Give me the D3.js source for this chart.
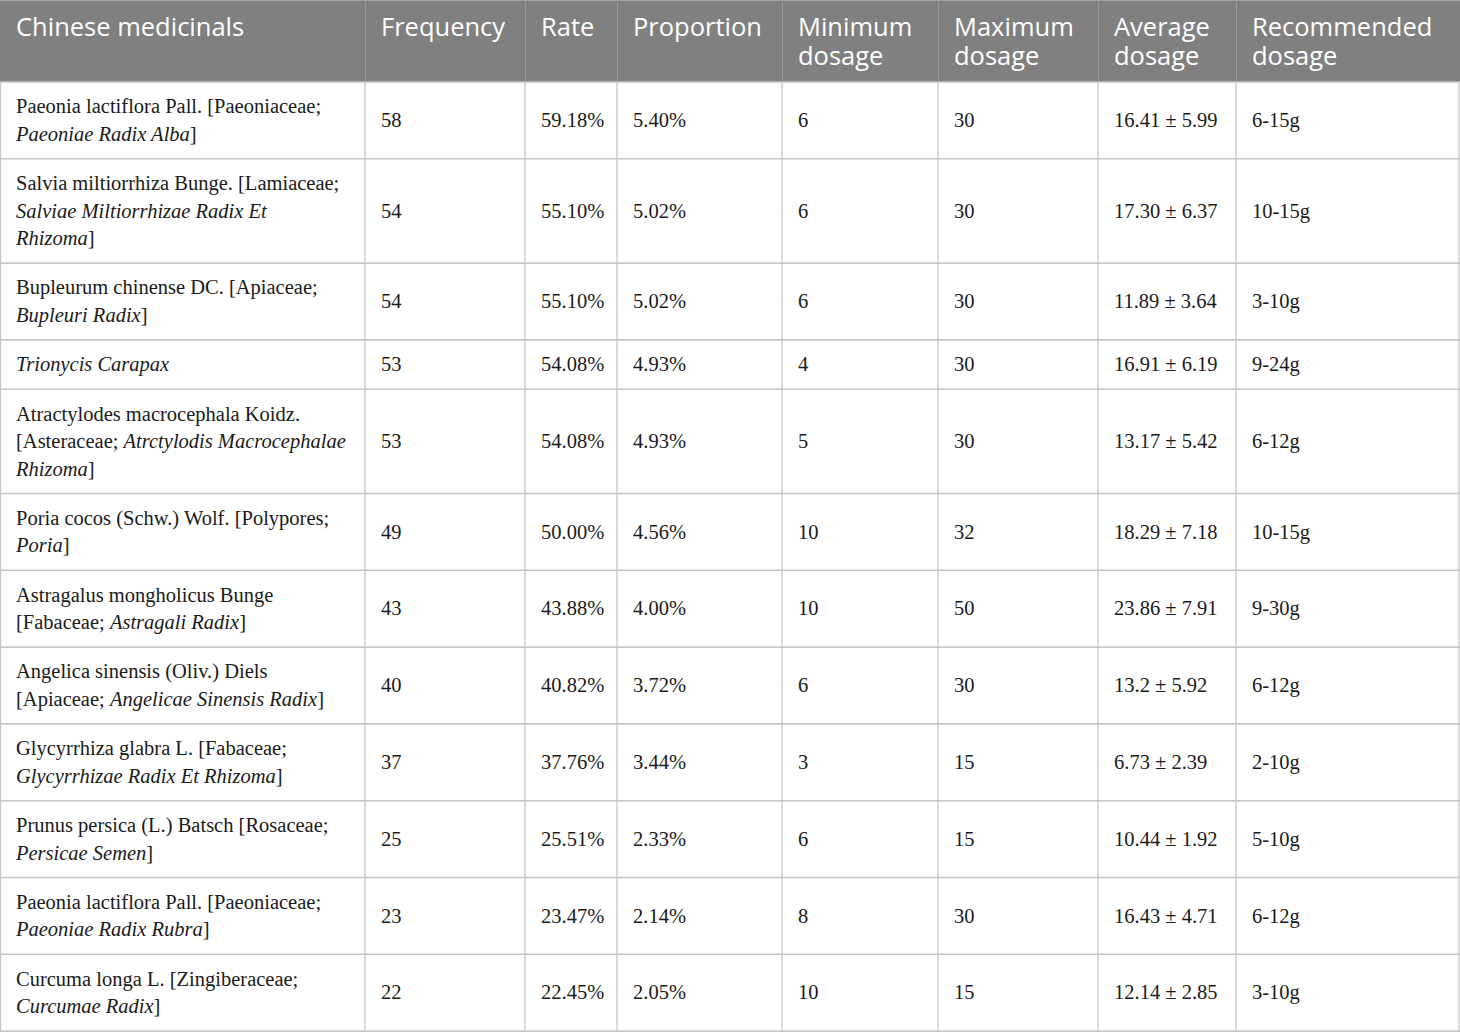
<!DOCTYPE html>
<html>
<head>
<meta charset="utf-8">
<script src="https://cdn.jsdelivr.net/npm/d3@7"></script>
<style>
  body { margin: 0; background: #fff; }
  svg { display: block; }
</style>
</head>
<body>
<div id="tableWrapper"></div>
<script>
// table content
var headers = ["Chinese medicinals", "Frequency", "Rate", "Proportion",
  "Minimum\ndosage", "Maximum\ndosage", "Average\ndosage", "Recommended\ndosage"];

// \n = line break, *...* = italic
var medicinals = [
  "Paeonia lactiflora Pall. [Paeoniaceae;\n*Paeoniae Radix Alba*]",
  "Salvia miltiorrhiza Bunge. [Lamiaceae;\n*Salviae Miltiorrhizae Radix Et\nRhizoma*]",
  "Bupleurum chinense DC. [Apiaceae;\n*Bupleuri Radix*]",
  "*Trionycis Carapax*",
  "Atractylodes macrocephala Koidz.\n[Asteraceae; *Atrctylodis Macrocephalae\nRhizoma*]",
  "Poria cocos (Schw.) Wolf. [Polypores;\n*Poria*]",
  "Astragalus mongholicus Bunge\n[Fabaceae; *Astragali Radix*]",
  "Angelica sinensis (Oliv.) Diels\n[Apiaceae; *Angelicae Sinensis Radix*]",
  "Glycyrrhiza glabra L. [Fabaceae;\n*Glycyrrhizae Radix Et Rhizoma*]",
  "Prunus persica (L.) Batsch [Rosaceae;\n*Persicae Semen*]",
  "Paeonia lactiflora Pall. [Paeoniaceae;\n*Paeoniae Radix Rubra*]",
  "Curcuma longa L. [Zingiberaceae;\n*Curcumae Radix*]"
];
var frequency = [58, 54, 54, 53, 53, 49, 43, 40, 37, 25, 23, 22];
var rate = ["59.18%", "55.10%", "55.10%", "54.08%", "54.08%", "50.00%",
  "43.88%", "40.82%", "37.76%", "25.51%", "23.47%", "22.45%"];
var proportion = ["5.40%", "5.02%", "5.02%", "4.93%", "4.93%", "4.56%",
  "4.00%", "3.72%", "3.44%", "2.33%", "2.14%", "2.05%"];
var minDosage = [6, 6, 6, 4, 5, 10, 10, 6, 3, 6, 8, 10];
var maxDosage = [30, 30, 30, 30, 30, 32, 50, 30, 15, 15, 30, 15];
var avgDosage = ["16.41 ± 5.99", "17.30 ± 6.37", "11.89 ± 3.64", "16.91 ± 6.19",
  "13.17 ± 5.42", "18.29 ± 7.18", "23.86 ± 7.91", "13.2 ± 5.92", "6.73 ± 2.39",
  "10.44 ± 1.92", "16.43 ± 4.71", "12.14 ± 2.85"];
var recommended = ["6-15g", "10-15g", "3-10g", "9-24g", "6-12g", "10-15g",
  "9-30g", "6-12g", "2-10g", "5-10g", "6-12g", "3-10g"];

var W = 1460, H = 1032;
var colWidths = [365, 160, 92, 165, 156, 160, 138, 224];
var headH = 82, lineH = 27.5, rowPad = 21.8, padX = 16;
var headColor = "#808080", gridColor = "#c6c6c6";

// split a cell string into lines of {text, italic} runs
function parseRuns(s){
  var lines = [[]], italic = false, buf = "";
  function flush(){ if(buf) lines[lines.length-1].push({text: buf, italic: italic}); buf = ""; }
  for (var i = 0; i < s.length; i++){
    var c = s[i];
    if (c === "*"){ flush(); italic = !italic; }
    else if (c === "\n"){ flush(); lines.push([]); }
    else buf += c;
  }
  flush();
  return lines;
}

var rows = medicinals.map(function(m, i){
  return [m, frequency[i], rate[i], proportion[i], minDosage[i], maxDosage[i], avgDosage[i], recommended[i]]
    .map(function(v){ return parseRuns(String(v)); });
});
var rowHeights = rows.map(function(r){ return rowPad + lineH * d3.max(r, function(c){ return c.length; }); });
var rowTops = [headH].concat(Array.from(d3.cumsum(rowHeights), function(v){ return headH + v; }));

var colEdges = [0].concat(Array.from(d3.cumsum(colWidths)));
var x = d3.scaleOrdinal().domain(d3.range(colWidths.length)).range(colEdges.slice(0, -1));
var y = d3.scaleOrdinal().domain(d3.range(rows.length)).range(rowTops.slice(0, -1));

var svg = d3.select("#tableWrapper").append("svg")
  .attr("width", W).attr("height", H);

// header
svg.append("rect").attr("x", 0).attr("y", 0).attr("width", W).attr("height", headH).attr("fill", headColor);
svg.append("line").attr("x1", 0).attr("x2", W).attr("y1", 0.5).attr("y2", 0.5)
  .attr("stroke", "#a8a8a8").attr("stroke-width", 1);

var head = svg.append("g").attr("class", "header");
head.selectAll("text")
  .data(headers)
  .enter().append("text")
  .attr("x", function(d, i){ return x(i) + padX; })
  .attr("y", 36)
  .style("font-family", "'Open Sans', 'Noto Sans', sans-serif")
  .style("font-size", "25.5px")
  .style("fill", "#fff")
  .each(function(d){
    var t = d3.select(this);
    d.split("\n").forEach(function(line, k){
      t.append("tspan").attr("x", t.attr("x")).attr("dy", k ? 29 : 0).text(line);
    });
  });

head.selectAll("line")
  .data(d3.range(1, colWidths.length))
  .enter().append("line")
  .attr("x1", function(i){ return x(i) + 0.5; }).attr("x2", function(i){ return x(i) + 0.5; })
  .attr("y1", 0).attr("y2", headH)
  .attr("stroke", "#9a9a9a").attr("stroke-width", 1);

// body grid
var grid = svg.append("g").attr("class", "grid");
grid.selectAll(".hline")
  .data(rowTops)
  .enter().append("line")
  .attr("class", "hline")
  .attr("x1", 0).attr("x2", W)
  .attr("y1", function(d){ return d; }).attr("y2", function(d){ return d; })
  .attr("stroke", gridColor).attr("stroke-width", 1.6);

grid.selectAll(".vline")
  .data(colEdges)
  .enter().append("line")
  .attr("class", "vline")
  .attr("x1", function(d){ return Math.min(Math.max(d, 0.5), W - 1); })
  .attr("x2", function(d){ return Math.min(Math.max(d, 0.5), W - 1); })
  .attr("y1", headH).attr("y2", rowTops[rowTops.length - 1])
  .attr("stroke", gridColor).attr("stroke-width", 1.3);

// cells
var rowG = svg.selectAll(".row")
  .data(rows)
  .enter().append("g")
  .attr("class", "row")
  .attr("transform", function(d, i){ return "translate(0," + y(i) + ")"; });

rowG.each(function(r, i){
  var h = rowHeights[i];
  d3.select(this).selectAll("text")
    .data(r)
    .enter().append("text")
    .attr("x", function(c, j){ return x(j) + padX; })
    .style("font-family", "'Liberation Serif', 'Times New Roman', serif")
    .style("font-size", "20.5px")
    .style("fill", "#1a1a1a")
    .each(function(c, j){
      var t = d3.select(this);
      var top = (h - c.length * lineH) / 2 + 20.5;
      c.forEach(function(line, k){
        line.forEach(function(run, m){
          var ts = t.append("tspan").text(run.text)
            .style("font-style", run.italic ? "italic" : "normal");
          if (m === 0) ts.attr("x", x(j) + padX).attr("y", top + k * lineH);
        });
      });
    });
});
</script>
</body>
</html>
